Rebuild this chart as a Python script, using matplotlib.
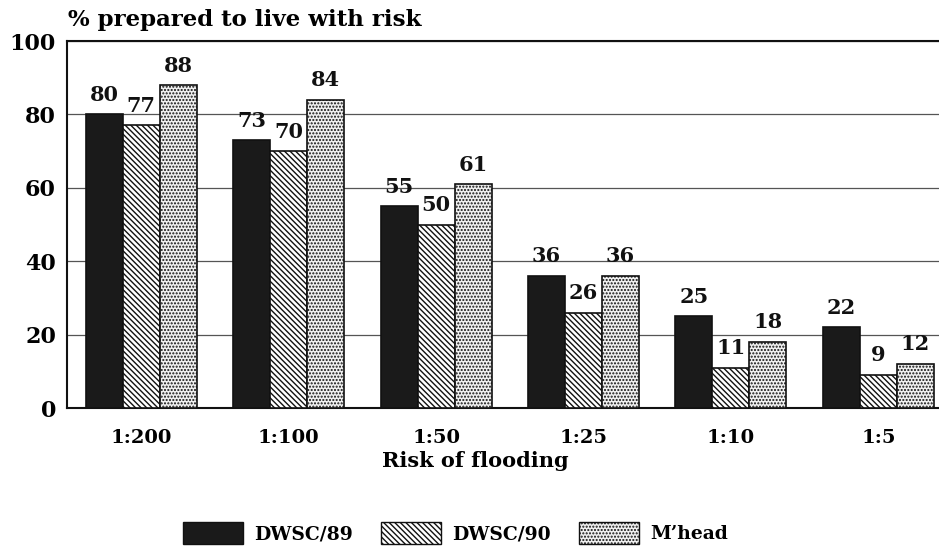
import matplotlib
matplotlib.use("Agg")
import matplotlib.pyplot as plt
import numpy as np
from matplotlib.patches import Patch

categories = ["1:200", "1:100", "1:50", "1:25", "1:10", "1:5"]
dwsc89 = [80, 73, 55, 36, 25, 22]
dwsc90 = [77, 70, 50, 26, 11, 9]
mhead = [88, 84, 61, 36, 18, 12]
series_names = ["DWSC/89", "DWSC/90", "M\u2019head"]
yticks = [0, 20, 40, 60, 80, 100]

plt.rcParams['font.family'] = ['DejaVu Serif']
plt.rcParams['font.weight'] = 'bold'
plt.rcParams['hatch.linewidth'] = 1.0

fig = plt.figure(figsize=(9.39, 5.51), dpi=100)
ax = fig.add_axes([0.0714, 0.2595, 0.93, 0.666])

x = np.arange(len(categories))
w = 0.251
styles = [
    dict(facecolor='#1a1a1a', edgecolor='#111111', hatch=None),
    dict(facecolor='white', edgecolor='#111111', hatch='\\\\\\\\\\\\'),
    dict(facecolor='#f0f0f0', edgecolor='#111111', hatch='.....'),
]
data = [dwsc89, dwsc90, mhead]
for i, (vals, st) in enumerate(zip(data, styles)):
    bars = ax.bar(x + (i - 1) * w, vals, width=w, linewidth=1.2, zorder=3, **st)
    for b, v in zip(bars, vals):
        ax.text(b.get_x() + b.get_width() / 2, v + 2.6, str(v), ha='center', va='bottom',
                fontsize=15, fontweight='bold', color='#111111', zorder=4)

ax.set_ylim(0, 100)
ax.set_xlim(-0.503, 5.42)
ax.set_yticks(yticks)
ax.set_yticklabels([str(t) for t in yticks], fontsize=16, fontweight='bold')
ax.set_xticks(x)
ax.set_xticklabels(categories, fontsize=14, fontweight='bold')
ax.tick_params(axis='y', length=0, pad=8)
ax.tick_params(axis='x', length=0, pad=15)
ax.yaxis.grid(True, color='#555555', linewidth=0.9, zorder=0)
for s in ['left', 'bottom', 'top']:
    ax.spines[s].set_linewidth(1.5)
    ax.spines[s].set_color('#111111')
ax.spines['right'].set_visible(False)

fig.text(475 / 939, 1 - 461 / 551, "Risk of flooding", fontsize=15, fontweight='bold',
         ha='center', va='center')
fig.text(0.072, 0.964, "% prepared to live with risk", fontsize=16.5, fontweight='bold',
         ha='left', va='center')

handles = [Patch(**st, linewidth=1.0) for st in styles]
fig.legend(handles, series_names, loc='center', bbox_to_anchor=(0.485, 0.033), ncol=3, frameon=False,
           prop=dict(size=13.5, weight='bold'), handlelength=3.2, handleheight=1.4,
           columnspacing=1.5, handletextpad=0.6)

fig.savefig("out.png", dpi=100)
